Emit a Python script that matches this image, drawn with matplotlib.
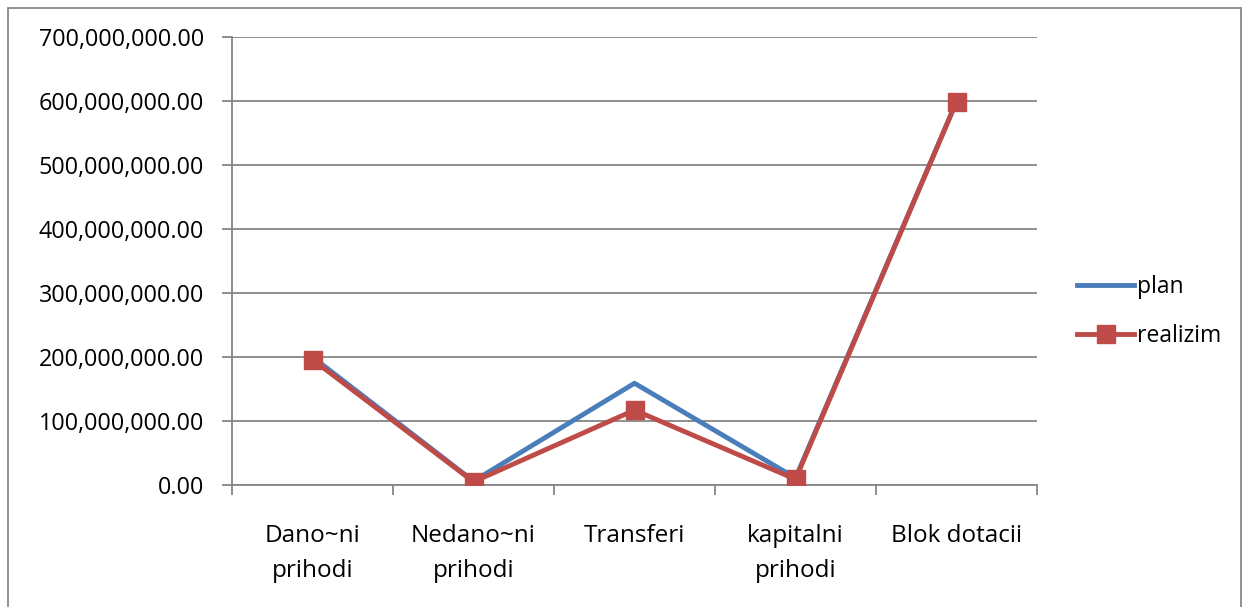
import matplotlib.pyplot as plt
from matplotlib.patches import Rectangle
from matplotlib.ticker import FuncFormatter

categories = ["Dano~ni\nprihodi", "Nedano~ni\nprihodi", "Transferi", "kapitalni\nprihodi", "Blok dotacii"]
plan = [200_000_000, 6_000_000, 159_000_000, 11_000_000, 599_000_000]
realizim = [196_000_000, 5_000_000, 117_000_000, 9_000_000, 599_000_000]

BLUE = "#4A7EBB"
RED = "#BE4B48"
GRID = "#868686"

plt.rcParams["font.family"] = ["Open Sans", "DejaVu Sans"]

fig = plt.figure(figsize=(12.47, 6.07), dpi=100)
ax = fig.add_axes([232 / 1247, 1 - 485 / 607, (1037 - 232) / 1247, (485 - 37) / 607])

x = list(range(len(categories)))
ax.plot(x, plan, color=BLUE, lw=3.5, label="plan", zorder=3)
ax.plot(x, realizim, color=RED, lw=3.5, marker="s", markersize=13.5,
        markerfacecolor=RED, markeredgecolor=RED, label="realizim", zorder=4)

ax.set_xlim(-0.5, len(categories) - 0.5)
ax.set_ylim(0, 700_000_000)
ax.set_yticks(range(0, 700_000_001, 100_000_000))
ax.yaxis.set_major_formatter(FuncFormatter(lambda v, p: f"{v:,.2f}"))
ax.set_xticks(x)
ax.set_xticklabels(categories, linespacing=1.6)
ax.set_xticks([i - 0.5 for i in range(len(categories) + 1)], minor=True)

ax.grid(axis="y", color=GRID, lw=1.3, zorder=0)
ax.set_axisbelow(True)
for s in ["top", "right"]:
    ax.spines[s].set_visible(False)
for s in ["left", "bottom"]:
    ax.spines[s].set_color(GRID)
    ax.spines[s].set_linewidth(1.3)

ax.tick_params(axis="y", length=7, color=GRID, width=1.3, labelsize=16.8, pad=13)
ax.tick_params(axis="x", which="major", length=0, labelsize=17.5, pad=28)
ax.tick_params(axis="x", which="minor", length=7, color=GRID, width=1.3)

leg = ax.legend(loc="center left", bbox_to_anchor=(1.024, 0.388), frameon=False,
                fontsize=16.5, handlelength=2.5, handletextpad=0.1, labelspacing=1.1)

fig.patches.append(Rectangle((8 / 1247, -0.02), (1241 - 8) / 1247, 1 - 8 / 607 + 0.02,
                             transform=fig.transFigure, fill=False, edgecolor="#888888", lw=1.3))

fig.savefig("out.png", dpi=100)
